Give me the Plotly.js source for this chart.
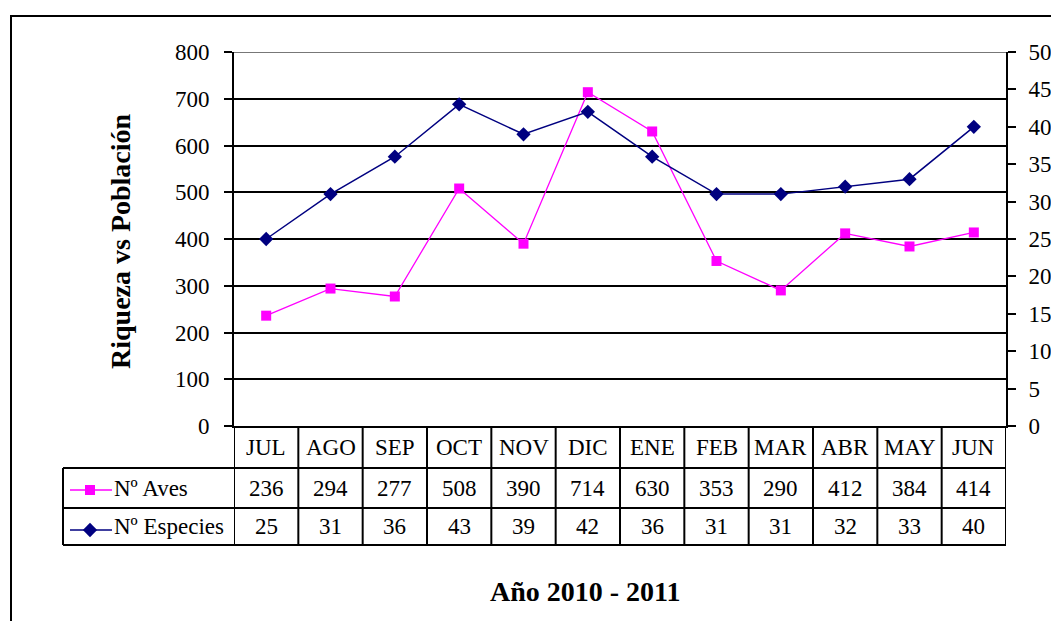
<!DOCTYPE html>
<html>
<head>
<meta charset="utf-8">
<script src="https://cdn.plot.ly/plotly-3.0.1.min.js"></script>
<style>
html,body{margin:0;padding:0;background:#fff;}
#chart{width:1051px;height:621px;}
</style>
</head>
<body>
<div id="chart"></div>
<script>
var months = ["JUL","AGO","SEP","OCT","NOV","DIC","ENE","FEB","MAR","ABR","MAY","JUN"];
var aves = [236,294,277,508,390,714,630,353,290,412,384,414];
var especies = [25,31,36,43,39,42,36,31,31,32,33,40];
var seriesNames = ["N\u00ba Aves","N\u00ba Especies"];
var yTitle = "Riqueza vs Poblaci\u00f3n";
var xTitle = "A\u00f1o 2010 - 2011";
var yMax = 800;

var W = 1051, H = 621;
function px(x){return x / W;}
function py(y){return 1 - y / H;}

var plotL = 234, plotR = 1006, plotT = 52, plotB = 426;
var rowH = 468, rowA = 508, rowE = 545, tableL = 63;
var font = "Liberation Serif";
var pink = "#FF00FF", navy = "#000080";

var idx = months.map(function(_, i){return i;});

var traces = [
  {x: idx, y: aves, type: "scatter", mode: "lines+markers", name: seriesNames[0],
   line: {color: pink, width: 1.3}, marker: {symbol: "square", size: 10, color: pink},
   xaxis: "x", yaxis: "y", hoverinfo: "none"},
  {x: idx, y: especies, type: "scatter", mode: "lines+markers", name: seriesNames[1],
   line: {color: navy, width: 1.5}, marker: {symbol: "diamond", size: 11, color: navy},
   xaxis: "x", yaxis: "y2", hoverinfo: "none"},
  {x: [70, 112], y: [490, 490], type: "scatter", mode: "lines", line: {color: pink, width: 1.3},
   xaxis: "x3", yaxis: "y3", hoverinfo: "none"},
  {x: [90], y: [490], type: "scatter", mode: "markers", marker: {symbol: "square", size: 10, color: pink},
   xaxis: "x3", yaxis: "y3", hoverinfo: "none"},
  {x: [70, 112], y: [530, 530], type: "scatter", mode: "lines", line: {color: navy, width: 1.5},
   xaxis: "x3", yaxis: "y3", hoverinfo: "none"},
  {x: [90], y: [530], type: "scatter", mode: "markers", marker: {symbol: "diamond", size: 11, color: navy},
   xaxis: "x3", yaxis: "y3", hoverinfo: "none"}
];

var shapes = [];
var lineStyle = {color: "#000", width: 2};
shapes.push({type: "rect", xref: "paper", yref: "paper", x0: px(11), x1: px(1060), y0: py(16), y1: py(640),
  line: {color: "#000", width: 2}});
// top border of plot area (grey)
shapes.push({type: "line", xref: "paper", yref: "y", x0: px(plotL), x1: px(plotR), y0: yMax, y1: yMax,
  line: {color: "#777", width: 2}});
[rowH, rowA, rowE].forEach(function(y){
  shapes.push({type: "line", xref: "paper", yref: "paper", x0: px(tableL), x1: px(plotR), y0: py(y), y1: py(y), line: lineStyle});
});
shapes.push({type: "line", xref: "paper", yref: "paper", x0: px(tableL), x1: px(tableL), y0: py(rowH), y1: py(rowE), line: lineStyle});
for (var i = 0; i <= months.length; i++) {
  shapes.push({type: "line", xref: "x", yref: "paper", x0: i - 0.5, x1: i - 0.5, y0: py(plotB), y1: py(rowE), line: lineStyle});
}

var annotations = [];
var cellFont = {family: font, size: 23, color: "#000"};
months.forEach(function(m, i){
  annotations.push({x: i, y: py((plotB + rowH) / 2), xref: "x", yref: "paper", text: m, showarrow: false, font: cellFont, xanchor: "center", yanchor: "middle"});
  annotations.push({x: i, y: py((rowH + rowA) / 2), xref: "x", yref: "paper", text: String(aves[i]), showarrow: false, font: cellFont, xanchor: "center", yanchor: "middle"});
  annotations.push({x: i, y: py((rowA + rowE) / 2), xref: "x", yref: "paper", text: String(especies[i]), showarrow: false, font: cellFont, xanchor: "center", yanchor: "middle"});
});
annotations.push({x: px(112), y: py((rowH + rowA) / 2), xref: "paper", yref: "paper", text: seriesNames[0], showarrow: false, font: cellFont, xanchor: "left", yanchor: "middle"});
annotations.push({x: px(112), y: py((rowA + rowE) / 2), xref: "paper", yref: "paper", text: seriesNames[1], showarrow: false, font: cellFont, xanchor: "left", yanchor: "middle"});
annotations.push({x: px(121), y: py(241), xref: "paper", yref: "paper", text: "<b>" + yTitle + "</b>", textangle: -90, showarrow: false,
  font: {family: font, size: 28, color: "#000"}, xanchor: "center", yanchor: "middle"});
annotations.push({x: px(585), y: py(591), xref: "paper", yref: "paper", text: "<b>" + xTitle + "</b>", showarrow: false,
  font: {family: font, size: 28, color: "#000"}, xanchor: "center", yanchor: "middle"});

var dom = [px(plotL), px(plotR)];
var ydom = [py(plotB), py(plotT)];
var tickFont = {family: font, size: 23, color: "#000"};

var layout = {
  width: W, height: H,
  margin: {l: 0, r: 0, t: 0, b: 0, pad: 0},
  paper_bgcolor: "#fff", plot_bgcolor: "rgba(0,0,0,0)",
  font: {family: font, color: "#000"},
  showlegend: false,
  xaxis: {domain: dom, range: [-0.5, months.length - 0.5], showticklabels: false, showgrid: false, zeroline: false,
    showline: true, linecolor: "#000", linewidth: 2, ticks: "", fixedrange: true, anchor: "y"},
  yaxis: {domain: ydom, range: [0, yMax], dtick: 100, tick0: 0, showgrid: true, gridcolor: "#000", gridwidth: 2,
    zeroline: false, showline: true, linecolor: "#000", linewidth: 2, ticks: "outside", ticklen: 8, tickcolor: "#000",
    tickwidth: 2, tickfont: tickFont, ticklabelstandoff: 10, anchor: "x", fixedrange: true},
  yaxis2: {domain: ydom, range: [0, 50], dtick: 5, tick0: 0, overlaying: "y", side: "right", anchor: "x",
    showgrid: false, zeroline: false, showline: true, linecolor: "#000", linewidth: 2, ticks: "outside", ticklen: 8,
    tickcolor: "#000", tickwidth: 2, tickfont: tickFont, ticklabelstandoff: 8, fixedrange: true},
  yaxis4: {domain: ydom, range: [0, 50], dtick: 5, tick0: 0, overlaying: "y", side: "right", anchor: "x",
    showgrid: false, zeroline: false, showline: false, ticks: "inside", ticklen: 8, tickcolor: "#000", tickwidth: 2,
    showticklabels: false, fixedrange: true},
  xaxis3: {domain: [0, 1], range: [0, W], visible: false, fixedrange: true, anchor: "y3"},
  yaxis3: {domain: [0, 1], range: [H, 0], visible: false, fixedrange: true, anchor: "x3"},
  shapes: shapes,
  annotations: annotations
};

Plotly.newPlot("chart", traces, layout, {staticPlot: true, displayModeBar: false});
</script>
</body>
</html>
